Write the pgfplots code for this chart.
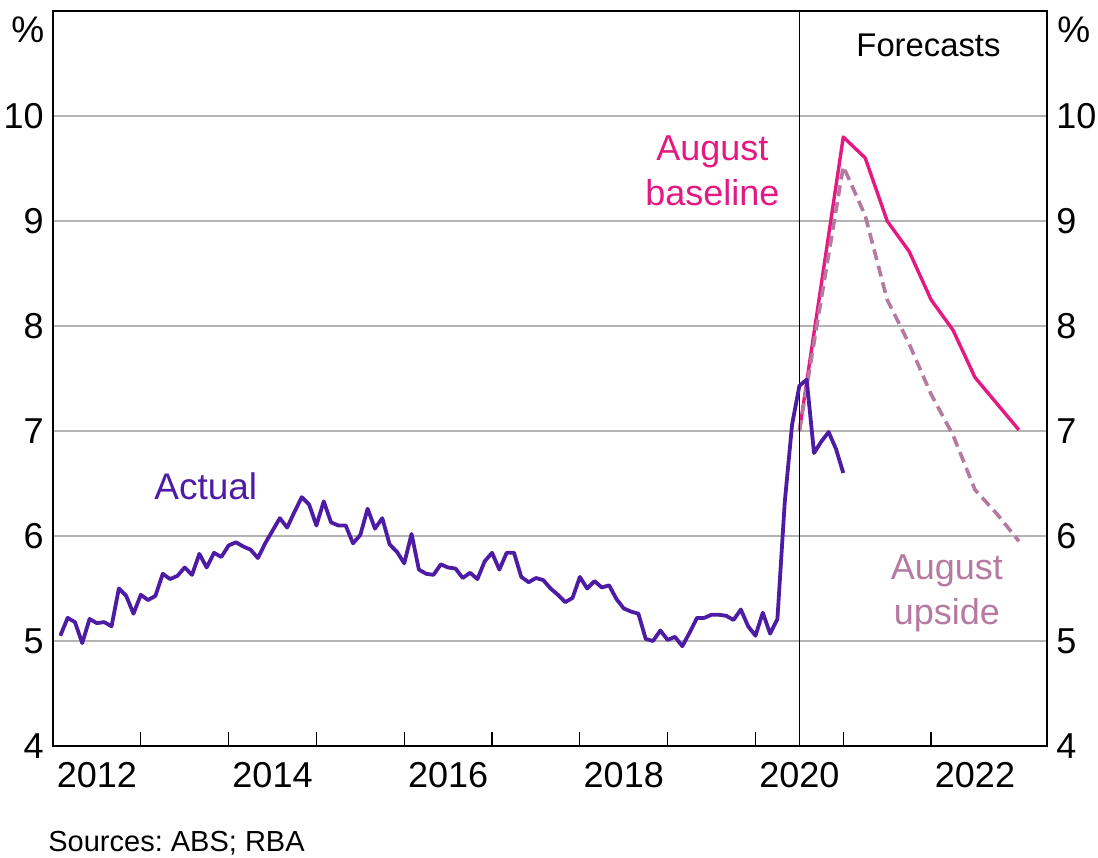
\documentclass[border=0pt]{standalone}
\usepackage{fontspec}
\setmainfont{Liberation Sans}
\usepackage{pgfplots}
\pgfplotsset{compat=1.18}
\usepackage{pgfplotstable}
\definecolor{actual}{RGB}{78,28,164}
\definecolor{basecol}{RGB}{228,26,130}
\definecolor{upcol}{RGB}{182,122,160}
\definecolor{gridgray}{RGB}{180,180,180}
\frenchspacing

\pgfplotstableread{
year month value
2012 1 5.05
2012 2 5.22
2012 3 5.18
2012 4 4.98
2012 5 5.21
2012 6 5.17
2012 7 5.18
2012 8 5.14
2012 9 5.50
2012 10 5.43
2012 11 5.26
2012 12 5.44
2013 1 5.39
2013 2 5.43
2013 3 5.64
2013 4 5.59
2013 5 5.62
2013 6 5.70
2013 7 5.63
2013 8 5.83
2013 9 5.70
2013 10 5.84
2013 11 5.80
2013 12 5.91
2014 1 5.94
2014 2 5.90
2014 3 5.87
2014 4 5.79
2014 5 5.93
2014 6 6.05
2014 7 6.17
2014 8 6.08
2014 9 6.23
2014 10 6.37
2014 11 6.30
2014 12 6.10
2015 1 6.33
2015 2 6.13
2015 3 6.10
2015 4 6.10
2015 5 5.93
2015 6 6.01
2015 7 6.26
2015 8 6.07
2015 9 6.17
2015 10 5.92
2015 11 5.85
2015 12 5.74
2016 1 6.02
2016 2 5.68
2016 3 5.64
2016 4 5.63
2016 5 5.73
2016 6 5.70
2016 7 5.69
2016 8 5.60
2016 9 5.65
2016 10 5.59
2016 11 5.76
2016 12 5.84
2017 1 5.68
2017 2 5.84
2017 3 5.84
2017 4 5.61
2017 5 5.56
2017 6 5.60
2017 7 5.58
2017 8 5.50
2017 9 5.44
2017 10 5.37
2017 11 5.41
2017 12 5.61
2018 1 5.50
2018 2 5.57
2018 3 5.51
2018 4 5.53
2018 5 5.40
2018 6 5.31
2018 7 5.28
2018 8 5.26
2018 9 5.02
2018 10 5.00
2018 11 5.10
2018 12 5.01
2019 1 5.04
2019 2 4.95
2019 3 5.08
2019 4 5.22
2019 5 5.22
2019 6 5.25
2019 7 5.25
2019 8 5.24
2019 9 5.20
2019 10 5.30
2019 11 5.14
2019 12 5.05
2020 1 5.27
2020 2 5.07
2020 3 5.21
2020 4 6.32
2020 5 7.06
2020 6 7.43
2020 7 7.49
2020 8 6.79
2020 9 6.90
2020 10 6.99
2020 11 6.83
2020 12 6.60
}\actualdata

\pgfplotstableread{
x y
2020.50 7.00
2021.00 9.80
2021.25 9.60
2021.50 9.00
2021.75 8.71
2022.00 8.25
2022.25 7.96
2022.50 7.51
2022.75 7.26
2023.00 7.01
}\basedata

\pgfplotstableread{
x y
2020.50 7.00
2021.00 9.52
2021.25 9.05
2021.50 8.25
2021.75 7.83
2022.00 7.35
2022.25 6.96
2022.50 6.44
2022.75 6.21
2023.00 5.95
}\updata

\begin{document}
\begin{tikzpicture}
\useasboundingbox (-26.5pt,-55.5pt) rectangle (522.5pt,373pt);
\begin{axis}[
  at={(0,0)}, anchor=south west, scale only axis,
  width=497pt, height=367.5pt,
  xmin=2012, xmax=2023.32, ymin=4, ymax=11,
  axis line style={line width=0.7pt},
  xtick={2013,...,2022}, xticklabels={},
  xtick pos=bottom, tick align=inside,
  major tick length=7pt,
  x tick style={black, line width=0.6pt},
  extra x ticks={2012.5,2014.5,2016.5,2018.5,2020.5,2022.5},
  extra x tick labels={2012,2014,2016,2018,2020,2022},
  extra x tick style={major tick length=0pt},
  ytick={4,...,10}, ytick pos=left,
  y tick style={draw=none},
  ymajorgrids, grid style={gridgray, line width=0.7pt},
  tick label style={font=\fontsize{18}{21.6}\selectfont},
  yticklabel style={anchor=east, inner sep=1pt, xshift=-3.5pt},
  xticklabel style={anchor=north, inner sep=0pt, yshift=-8pt},
  /pgf/number format/assume math mode=true,
]
\addplot[basecol, line width=1.7pt, line join=round] table[x=x, y=y] {\basedata};
\addplot[upcol, line width=1.8pt, dash pattern=on 5.5pt off 3pt] table[x=x, y=y] {\updata};
\addplot[black, line width=0.8pt] coordinates {(2020.5,4) (2020.5,11)};
\addplot[actual, line width=1.9pt, line join=round] table[x expr=\thisrow{year}+\thisrow{month}/12, y=value] {\actualdata};

\node[font=\fontsize{18.5}{22}\selectfont, text=actual] at (axis cs:2013.74,6.47) {Actual};
\node[font=\fontsize{18}{22.5}\selectfont, text=basecol, align=center] at (axis cs:2019.51,9.48) {August\\baseline};
\node[font=\fontsize{18}{22.5}\selectfont, text=upcol, align=center] at (axis cs:2022.18,5.45) {August\\upside};
\node[font=\fontsize{16.4}{20}\selectfont] at (axis cs:2021.97,10.67) {Forecasts};
\end{axis}
\begin{axis}[
  at={(0,0)}, anchor=south west, scale only axis,
  width=497pt, height=367.5pt,
  xmin=2012, xmax=2023.32, ymin=4, ymax=11,
  axis line style={draw=none},
  xtick=\empty,
  ytick={4,...,10}, yticklabel pos=right,
  y tick style={draw=none},
  tick label style={font=\fontsize{18}{21.6}\selectfont},
  yticklabel style={anchor=west, inner sep=1pt, xshift=3.5pt},
  /pgf/number format/assume math mode=true,
]
\end{axis}
\node[font=\fontsize{18.5}{22}\selectfont, anchor=east, inner sep=0pt] at (-4.2pt,358pt) {\%};
\node[font=\fontsize{18.5}{22}\selectfont, anchor=west, inner sep=0pt] at (502pt,358pt) {\%};
\node[font=\fontsize{14.5}{17}\selectfont, anchor=base west, inner sep=0pt] at (-2.5pt,-52.5pt) {Sources: ABS; RBA};
\end{tikzpicture}
\end{document}
